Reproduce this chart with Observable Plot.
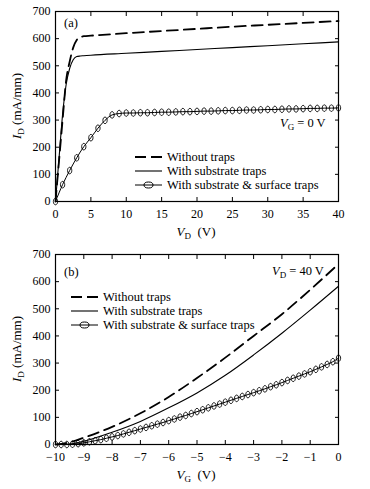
<!DOCTYPE html>
<html><head><meta charset="utf-8">
<script src="https://cdn.jsdelivr.net/npm/d3@7"></script>
<script src="https://cdn.jsdelivr.net/npm/@observablehq/plot@0.6"></script>
<style>
body{margin:0;background:#fff}
#c svg{display:block}
#c svg, #c svg text, #c svg tspan{font-family:'Liberation Serif','Times New Roman',serif !important}
</style>
</head><body><div id="c"></div>
<script>
// ---------- Data ----------
const seriesNames = ["Without traps", "With substrate traps", "With substrate & surface traps"];
const yTicks = [0,100,200,300,400,500,600,700];

// Panel (a): I_D vs V_D at V_G = 0 V
const xTicksA = [0,5,10,15,20,25,30,35,40];
const vdA = [0,0.5,1,1.5,2,2.5,3,3.5,4,5,10,15,20,25,30,35,40];
const noTrapsA = [0,150,300,445,515,567,595,605,609,611,620,628,636,644,651,658,665];
const substrateA = [0,160,320,430,490,522,534,536,537,539,546,553,560,567,574,581,588];
const vdSurfA = [0,1,2,3,4,5,6,7,8,9,10,11,12,13,14,15,16,17,18,19,20,21,22,23,24,25,26,27,28,29,30,31,32,33,34,35,36,37,38,39,40];
const surfaceA = [0,62,114,161,202,235,270,299,319,324,326,326,327,327,328,329,329,330,331,331,332,333,333,334,335,335,336,337,337,338,339,339,340,341,341,342,343,343,344,344,345];

// Panel (b): I_D vs V_G at V_D = 40 V
const xTicksB = [-10,-9,-8,-7,-6,-5,-4,-3,-2,-1,0];
const vgB = [-10,-9.5,-9,-8,-7,-6,-5,-4,-3,-2,-1,0];
const noTrapsB = [0,8,25,65,115,175,245,320,400,480,570,665];
const substrateB = [0,2,12,45,85,135,190,255,330,410,495,583];
const vgSurfB = [-10,-9.8,-9.6,-9.4,-9.2,-9,-8.8,-8.6,-8.4,-8.2,-8,-7.8,-7.6,-7.4,-7.2,-7,-6.8,-6.6,-6.4,-6.2,-6,-5.8,-5.6,-5.4,-5.2,-5,-4.8,-4.6,-4.4,-4.2,-4,-3.8,-3.6,-3.4,-3.2,-3,-2.8,-2.6,-2.4,-2.2,-2,-1.8,-1.6,-1.4,-1.2,-1,-0.8,-0.6,-0.4,-0.2,0];
const surfaceB = [0,0,0,1,3,6,10,14,18,23,28,33,39,45,51,57,63,69,75,81,88,94,101,107,114,121,128,135,142,149,156,163,170,177,184,191,198,205,213,220,228,236,244,252,260,268,277,286,295,305,318];

// ---------- Helpers ----------
const ellipse = {
  draw(ctx, size) {
    const ry = Math.sqrt(size / Math.PI), rx = ry * 0.65, k = 0.5523;
    ctx.moveTo(0, -ry);
    ctx.bezierCurveTo(k*rx, -ry, rx, -k*ry, rx, 0);
    ctx.bezierCurveTo(rx, k*ry, k*rx, ry, 0, ry);
    ctx.bezierCurveTo(-k*rx, ry, -rx, k*ry, -rx, 0);
    ctx.bezierCurveTo(-rx, -k*ry, -k*rx, -ry, 0, -ry);
    ctx.closePath();
  }
};
const zip = (xs, ys) => xs.map((x, i) => ({x, y: ys[i]}));
const W = 370, H = 243, ML = 55, MR = 32, MT = 11, MB = 42;

function panel({xDomain, xTicks, lines}) {
  const [dashed, solid, circ] = lines;
  return Plot.plot({
    width: W, height: H,
    marginLeft: ML, marginRight: MR, marginTop: MT, marginBottom: MB,
    style: {fontSize: "12px", background: "#fff", color: "#000"},
    x: {domain: xDomain},
    y: {domain: [0, 700]},
    marks: [
      Plot.line(dashed, {x: "x", y: "y", curve: "monotone-x", stroke: "#000", strokeWidth: 1.8, strokeDasharray: "11,6"}),
      Plot.line(solid, {x: "x", y: "y", curve: "monotone-x", stroke: "#000", strokeWidth: 1.1}),
      Plot.line(circ, {x: "x", y: "y", curve: "monotone-x", stroke: "#000", strokeWidth: 1}),
      Plot.dot(circ, {x: "x", y: "y", symbol: ellipse, r: 3.3, stroke: "#000", strokeWidth: 0.9, fill: "none"}),
      Plot.frame({stroke: "#000", strokeWidth: 1.2}),
      Plot.axisX({anchor: "bottom", ticks: xTicks, tickSize: -4, tickPadding: 12, fontSize: 12, label: null}),
      Plot.axisX({anchor: "top", ticks: xTicks, tickSize: -4, tickFormat: () => "", label: null}),
      Plot.axisY({anchor: "left", ticks: yTicks, tickSize: -4, tickPadding: 9, fontSize: 12, label: null}),
      Plot.axisY({anchor: "right", ticks: yTicks, tickSize: -4, tickFormat: () => "", label: null})
    ]
  });
}

function subText(g, x, y, main, sub, rest, opts = {}) {
  const t = g.append("text").attr("x", x).attr("y", y).attr("font-size", opts.size || 13)
    .attr("text-anchor", opts.anchor || "start").attr("fill", "#000");
  if (opts.rotate) t.attr("transform", `rotate(-90 ${x} ${y})`);
  t.append("tspan").attr("font-style", "italic").text(main);
  t.append("tspan").attr("font-size", 9).attr("dy", 3).text(sub);
  t.append("tspan").attr("dy", -3).text(rest);
  return t;
}

function legend(svg, x0, y0) {
  const g = svg.append("g");
  const len = 27, step = 14;
  g.append("line").attr("x1", x0).attr("x2", x0 + len).attr("y1", y0).attr("y2", y0)
    .attr("stroke", "#000").attr("stroke-width", 1.8).attr("stroke-dasharray", "11,5");
  g.append("line").attr("x1", x0).attr("x2", x0 + len).attr("y1", y0 + step).attr("y2", y0 + step)
    .attr("stroke", "#000").attr("stroke-width", 1.1);
  g.append("line").attr("x1", x0).attr("x2", x0 + len).attr("y1", y0 + 2*step).attr("y2", y0 + 2*step)
    .attr("stroke", "#000").attr("stroke-width", 1);
  g.append("ellipse").attr("cx", x0 + len/2).attr("cy", y0 + 2*step).attr("rx", 4.5).attr("ry", 3)
    .attr("fill", "none").attr("stroke", "#000").attr("stroke-width", 1);
  seriesNames.forEach((n, i) => {
    g.append("text").attr("x", x0 + len + 5).attr("y", y0 + i*step + 4).attr("font-size", 12.5)
      .attr("text-anchor", "start").attr("fill", "#000").text(n);
  });
}

// ---------- Panel (a) ----------
const pa = panel({
  xDomain: [0, 40], xTicks: xTicksA,
  lines: [zip(vdA, noTrapsA), zip(vdA, substrateA), zip(vdSurfA, surfaceA)]
});
const sa = d3.select(pa);
subText(sa, 21, 106, "I", "D", " (mA/mm)", {anchor: "middle", rotate: true});
subText(sa, 196, 236, "V", "D", "  (V)", {anchor: "middle"});
sa.append("text").attr("x", 64).attr("y", 27).attr("font-size", 12.5).attr("text-anchor", "start").attr("fill", "#000").text("(a)");
subText(sa, 280, 127, "V", "G", " = 0 V", {size: 12.5});
legend(sa, 135, 157);

// ---------- Panel (b) ----------
const pb = panel({
  xDomain: [-10, 0], xTicks: xTicksB,
  lines: [zip(vgB, noTrapsB), zip(vgB, substrateB), zip(vgSurfB, surfaceB)]
});
const sb = d3.select(pb);
subText(sb, 21, 106, "I", "D", " (mA/mm)", {anchor: "middle", rotate: true});
subText(sb, 196, 236, "V", "G", "  (V)", {anchor: "middle"});
sb.append("text").attr("x", 64).attr("y", 33).attr("font-size", 12.5).attr("text-anchor", "start").attr("fill", "#000").text("(b)");
subText(sb, 272, 32, "V", "D", " = 40 V", {size: 12.5});
legend(sb, 71, 54);

document.getElementById("c").append(pa, pb);
</script>
</body></html>
